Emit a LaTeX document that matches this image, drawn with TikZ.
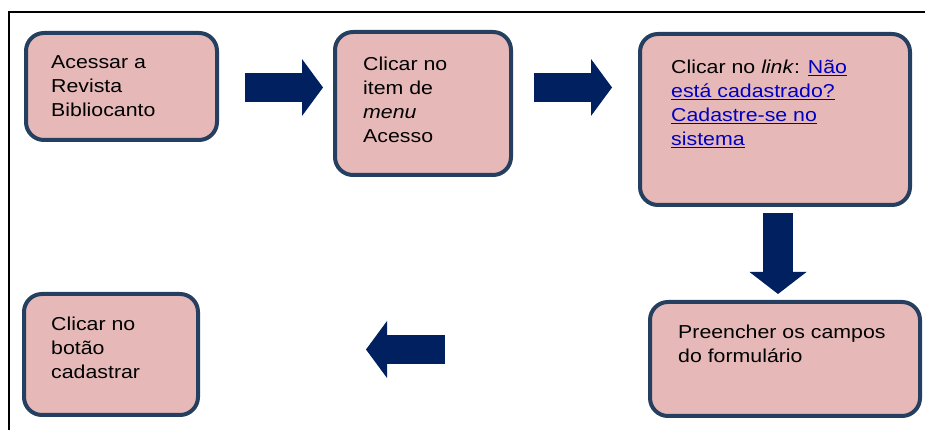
\documentclass[tikz,border=0pt]{standalone}
\usepackage{fontspec}
\setmainfont{Liberation Sans}[FakeStretch=1.14]
\usetikzlibrary{arrows.meta,positioning,calc}
\definecolor{boxpink}{HTML}{E6B9B8}
\definecolor{boxedge}{HTML}{243F60}
\definecolor{arrownavy}{HTML}{002060}
\definecolor{linkblue}{HTML}{0000C0}
\newcommand{\lnk}[1]{\textcolor{linkblue}{\underline{#1}}}

\begin{document}
\begin{tikzpicture}[x=1pt,y=1pt,
   v/.style={draw=boxedge,fill=boxpink,line width=4pt,rounded corners=18pt,inner sep=0pt},
   t/.style={anchor=north west,align=left,inner sep=0pt,font=\fontsize{18.7}{24}\selectfont},
   blk/.style={draw=arrownavy,line width=29pt,
               -{Triangle[length=21pt,width=57pt,line width=0pt]}}]
  \useasboundingbox (0,0) rectangle (925,430);
  \draw[line width=1.3pt] (9,0) -- (9,418) -- (925,418);
  % boxes
  \node[v,minimum width=191pt,minimum height=107pt] (acessar) at (121.5,343.5) {};
  \node[v,minimum width=176pt,minimum height=143pt] (menu) at (423,326.5) {};
  \node[v,minimum width=270pt,minimum height=171pt] (link) at (775,310.5) {};
  \node[v,minimum width=270pt,minimum height=114pt] (form) at (785,71) {};
  \node[v,minimum width=174pt,minimum height=121pt] (botao) at (111,75.5) {};
  % texts (first line strut of 18pt, so top = baseline + 18)
  \node[t] (acessar-t) at ($(acessar.north west)+(27,-19)$)
       {\rule{0pt}{18pt}Acessar a\\Revista\\Bibliocanto};
  \node[t] (menu-t) at ($(menu.north west)+(30,-22)$)
       {\rule{0pt}{18pt}Clicar no\\item de\\\textit{menu}\\Acesso};
  \node[t] (link-t) at ($(link.north west)+(33,-23)$)
       {\rule{0pt}{18pt}Clicar no \textit{link}: \lnk{Não}\\\lnk{está cadastrado?}\\\lnk{Cadastre-se no}\\\lnk{sistema}};
  \node[t] (form-t) at ($(form.north west)+(30,-20)$)
       {\rule{0pt}{18pt}Preencher os campos\\do formulário};
  \node[t] (botao-t) at ($(botao.north west)+(29,-20)$)
       {\rule{0pt}{18pt}Clicar no\\botão\\cadastrar};
  % arrows
  \draw[blk] ($(acessar.east)+(26,-1)$) -- ($(menu.west |- acessar.east)+(-10,-1)$);
  \draw[blk] ($(menu.east |- acessar.east)+(21,-1)$) -- ($(link.west |- acessar.east)+(-26,-1)$);
  \draw[blk,line width=30pt,-{Triangle[length=22pt,width=57pt,line width=0pt]}]
       ($(link.south)+(3,-6)$) -- ($(link.south |- form.north)+(3,6)$);
  \draw[blk] ($(botao.east)+(245,5)$) -- ($(botao.east)+(166,5)$);
\end{tikzpicture}
\end{document}
